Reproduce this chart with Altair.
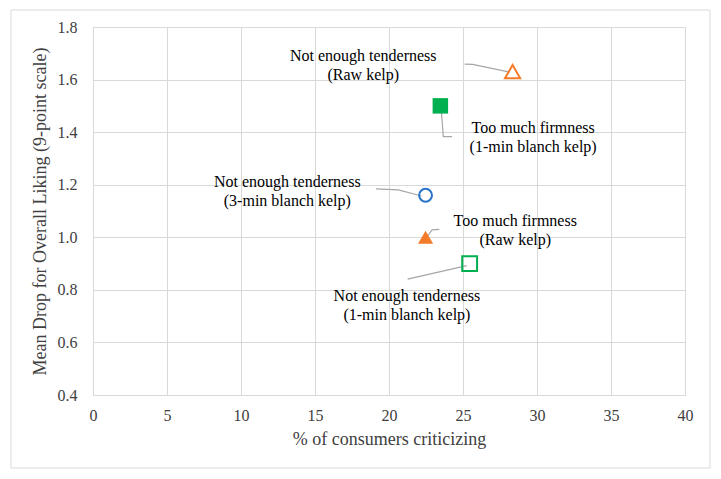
import altair as alt
import pandas as pd

# Points
pt_x = [28.35, 23.47, 22.47, 22.47, 25.45]
pt_y = [1.63, 1.50, 1.16, 1.00, 0.90]
pt_shape = ["triangle-up", "square", "circle", "triangle-up", "square"]
pt_color = ["#F47B2A", "#00B050", "#2874C8", "#F47B2A", "#00B050"]
pt_filled = [False, True, False, True, False]
pt_size = [230, 240, 165, 230, 220]

# Labels (centre of each two-line block)
lab_text = [
    "Not enough tenderness\n(Raw kelp)",
    "Too much firmness\n(1-min blanch kelp)",
    "Not enough tenderness\n(3-min blanch kelp)",
    "Too much firmness\n(Raw kelp)",
    "Not enough tenderness\n(1-min blanch kelp)",
]
lab_x = [18.26, 29.74, 13.13, 28.53, 21.21]
lab_y = [1.655, 1.378, 1.176, 1.024, 0.742]

# Leader lines (polyline vertices per label)
ld_id = [1, 1, 1, 2, 2, 2, 3, 3, 3, 4, 4, 4, 5, 5]
ld_ord = [0, 1, 2, 0, 1, 2, 0, 1, 2, 0, 1, 2, 0, 1]
ld_x = [25.11, 25.65, 28.15, 23.53, 23.67, 24.26, 19.12, 20.63, 22.2, 23.40, 22.91, 22.57, 21.26, 25.25]
ld_y = [1.659, 1.658, 1.628, 1.484, 1.383, 1.383, 1.184, 1.180, 1.157, 1.030, 1.028, 1.002, 0.841, 0.892]

x_ticks = [0, 5, 10, 15, 20, 25, 30, 35, 40]
y_ticks = [0.4, 0.6, 0.8, 1.0, 1.2, 1.4, 1.6, 1.8]

pts = pd.DataFrame({"x": pt_x, "y": pt_y, "shape": pt_shape, "color": pt_color,
                    "filled": pt_filled, "size": pt_size})
labs = pd.DataFrame({"x": lab_x, "y": lab_y, "t": lab_text})
leads = pd.DataFrame({"id": ld_id, "o": ld_ord, "x": ld_x, "y": ld_y})

FONT = "Liberation Serif"
GRID = "#D9D9D9"
TXT = "#404040"

xs = alt.Scale(domain=[0, 40], nice=False, zero=False)
ys = alt.Scale(domain=[0.4, 1.8], nice=False, zero=False)

xax = alt.Axis(values=x_ticks, title="% of consumers criticizing", grid=True, gridColor=GRID,
               domain=False, ticks=False, labelFont=FONT, labelFontSize=16, labelColor=TXT,
               labelPadding=12, titleFont=FONT, titleFontSize=18, titleFontWeight="normal",
               titleColor=TXT, titlePadding=7, labelFlush=False)
yax = alt.Axis(values=y_ticks, format=".1f", title="Mean Drop for Overall Liking (9-point scale)",
               grid=True, gridColor=GRID, domain=False, ticks=False, labelFont=FONT,
               labelFontSize=16, labelColor=TXT, labelPadding=16, titleFont=FONT,
               titleFontSize=18, titleFontWeight="normal", titleColor=TXT, titlePadding=8,
               labelFlush=False)

frame = alt.Chart(pd.DataFrame({"a": [0]})).mark_rect(
    fill=None, stroke=GRID, strokeWidth=1, clip=False
).encode(x=alt.value(-82), x2=alt.value(617), y=alt.value(-17), y2=alt.value(441))

base_axes = alt.Chart(pts).mark_point(opacity=0).encode(
    x=alt.X("x:Q", scale=xs, axis=xax),
    y=alt.Y("y:Q", scale=ys, axis=yax),
)

lines = alt.Chart(leads).mark_line(color="#A6A6A6", strokeWidth=1.2).encode(
    x=alt.X("x:Q", scale=xs),
    y=alt.Y("y:Q", scale=ys),
    detail="id:N",
    order="o:Q",
)

open_pts = alt.Chart(pts).transform_filter("!datum.filled").mark_point(
    filled=False, strokeWidth=2, opacity=1
).encode(
    x=alt.X("x:Q", scale=xs),
    y=alt.Y("y:Q", scale=ys),
    shape=alt.Shape("shape:N", scale=None),
    color=alt.Color("color:N", scale=None),
    size=alt.Size("size:Q", scale=None),
)

fill_pts = alt.Chart(pts).transform_filter("datum.filled").mark_point(
    filled=True, opacity=1
).encode(
    x=alt.X("x:Q", scale=xs),
    y=alt.Y("y:Q", scale=ys),
    shape=alt.Shape("shape:N", scale=None),
    color=alt.Color("color:N", scale=None),
    size=alt.Size("size:Q", scale=None),
)

texts = alt.Chart(labs).mark_text(
    font=FONT, fontSize=16, lineBreak="\n", lineHeight=19, align="center",
    baseline="middle", color="#000000", dy=-9.5
).encode(
    x=alt.X("x:Q", scale=xs),
    y=alt.Y("y:Q", scale=ys),
    text="t:N",
)

chart = alt.layer(frame, base_axes, lines, open_pts, fill_pts, texts).properties(
    width=592, height=368,
    autosize=alt.AutoSizeParams(type="none"),
    padding={"left": 85, "top": 19, "right": 28, "bottom": 75},
).configure_view(stroke=None).configure(background="white")

chart.save("out.html", embed_options={"renderer": "svg", "actions": False})
